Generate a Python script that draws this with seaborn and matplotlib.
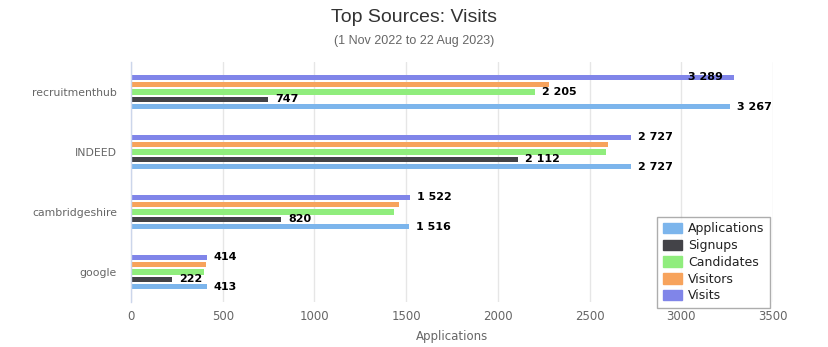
import matplotlib
matplotlib.use("Agg")
import matplotlib.pyplot as plt
import matplotlib.patches as mpatches
import seaborn as sns
import pandas as pd

categories = ["recruitmenthub", "INDEED", "cambridgeshire", "google"]
applications = [3267, 2727, 1516, 413]
signups = [747, 2112, 820, 222]
candidates = [2205, 2592, 1432, 397]
visitors = [2280, 2603, 1460, 408]
visits = [3289, 2727, 1522, 414]

# which data labels are visible (others hidden by overlap in the original)
show_applications = [True, True, True, True]
show_signups = [True, True, True, True]
show_candidates = [True, False, False, False]
show_visitors = [False, False, False, False]
show_visits = [True, True, True, True]

legend_order = ["Applications", "Signups", "Candidates", "Visitors", "Visits"]
colors = {"Applications": "#7cb5ec", "Signups": "#434348", "Candidates": "#90ed7d",
          "Visitors": "#f7a35c", "Visits": "#8085e9"}
xticks = [0, 500, 1000, 1500, 2000, 2500, 3000, 3500]

series = {"Applications": (applications, show_applications),
          "Signups": (signups, show_signups),
          "Candidates": (candidates, show_candidates),
          "Visitors": (visitors, show_visitors),
          "Visits": (visits, show_visits)}

rows = []
for name, (vals, shows) in series.items():
    for c, v, s in zip(categories, vals, shows):
        rows.append({"source": c, "series": name, "value": v, "show": s})
df = pd.DataFrame(rows)

sns.set_theme(style="white")
plt.rcParams["font.family"] = ["DejaVu Sans"]

fig = plt.figure(figsize=(8.29, 3.47), dpi=100)
ax = fig.add_axes([131 / 829, 1 - 302 / 347, (773 - 131) / 829, (302 - 62) / 347])

hue_order = ["Visits", "Visitors", "Candidates", "Signups", "Applications"]
sns.barplot(data=df, y="source", x="value", hue="series", order=categories,
            hue_order=hue_order, palette=colors, orient="h", width=0.62, gap=0.3,
            ax=ax, legend=False, saturation=1, linewidth=0)

ax.set_xlim(0, 3500)
ax.set_xticks(xticks)
ax.set_xticklabels([str(t) for t in xticks], color="#666666", fontsize=8.5)
ax.tick_params(axis="x", length=0, pad=6)
ax.tick_params(axis="y", which="major", length=0, pad=10)
ax.set_yticks([-0.5, 0.5, 1.5, 2.5, 3.5], minor=True)
ax.tick_params(axis="y", which="minor", length=8, color="#ccd6eb", width=1)
for lbl in ax.get_yticklabels():
    lbl.set_color("#666666")
    lbl.set_fontsize(7.8)
ax.set_ylim(3.5, -0.5)
ax.set_ylabel("")
ax.set_xlabel("Applications", color="#666666", fontsize=8.5, labelpad=5)
ax.grid(axis="x", color="#e6e6e6", linewidth=1)
ax.set_axisbelow(True)
for s in ["top", "right", "bottom"]:
    ax.spines[s].set_visible(False)
ax.spines["left"].set_color("#ccd6eb")
ax.spines["left"].set_linewidth(1)

# data labels
for container, name in zip(ax.containers, hue_order):
    vals, shows = series[name]
    for bar, v, s in zip(container.patches, vals, shows):
        if not s:
            continue
        txt = f"{v:,}".replace(",", " ")
        y = bar.get_y() + bar.get_height() / 2
        w = bar.get_width()
        if name == "Visits" and w > 3200:
            ax.annotate(txt, (w, y), xytext=(-8, 0), textcoords="offset points",
                        ha="right", va="center", fontsize=8, fontweight="bold",
                        color="#000000")
        else:
            ax.annotate(txt, (w, y), xytext=(5, 0), textcoords="offset points",
                        ha="left", va="center", fontsize=8, fontweight="bold",
                        color="#000000")

handles = [mpatches.Patch(color=colors[n], label=n) for n in legend_order]
leg = fig.legend(handles=handles, loc="lower right",
                 bbox_to_anchor=(770 / 829, 1 - 308 / 347), fontsize=9,
                 frameon=True, fancybox=False, handlelength=1.5, handleheight=0.9,
                 handletextpad=0.5, labelspacing=0.3, borderpad=0.45,
                 borderaxespad=0)
leg.get_frame().set_edgecolor("#999999")
leg.get_frame().set_linewidth(1)
for t in leg.get_texts():
    t.set_color("#222222")

fig.text(0.5, 1 - 17 / 347, "Top Sources: Visits", ha="center", va="center",
         fontsize=14, color="#333333", family=["Liberation Sans", "DejaVu Sans"])
fig.text(0.5, 1 - 41 / 347, "(1 Nov 2022 to 22 Aug 2023)", ha="center", va="center",
         fontsize=9, color="#666666", family=["Liberation Sans", "DejaVu Sans"])

fig.savefig("out.png", dpi=100, facecolor="white")
